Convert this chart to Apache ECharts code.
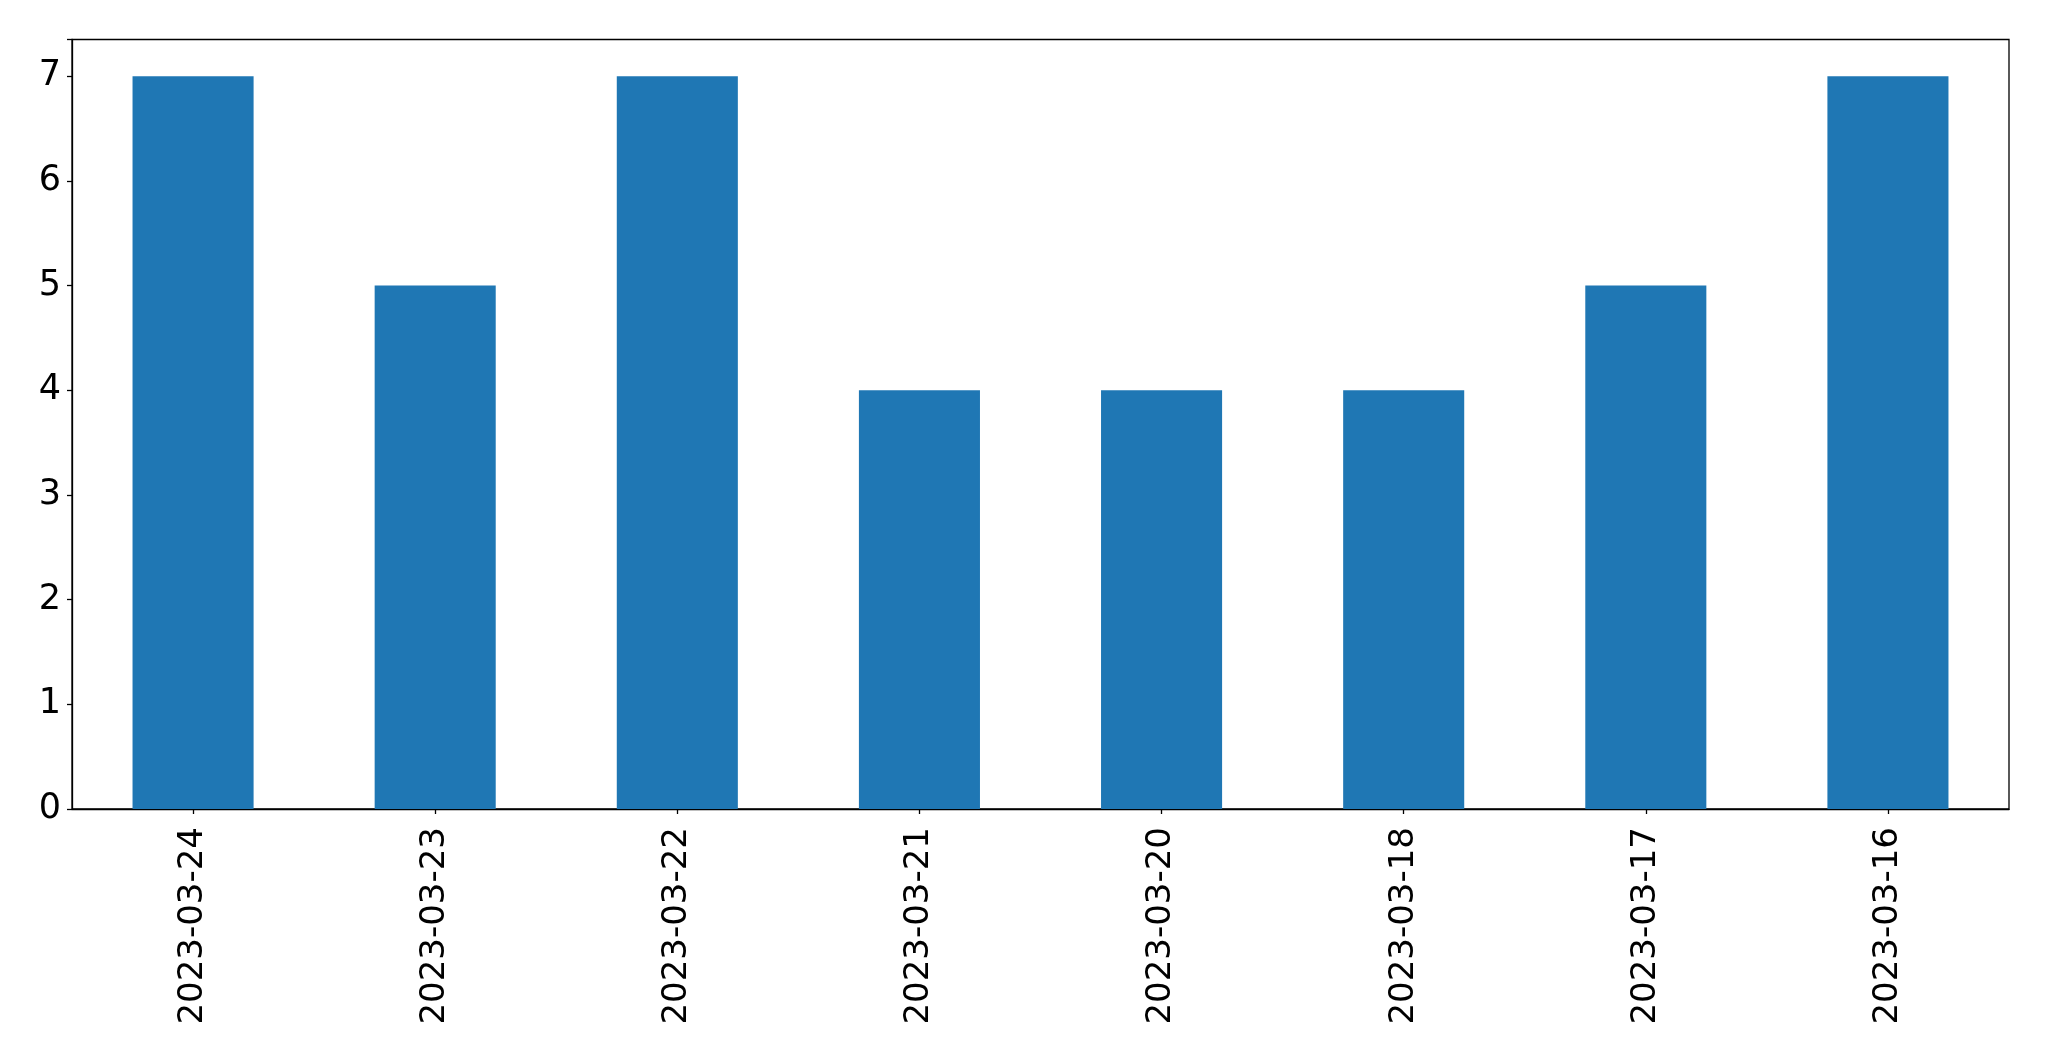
<!DOCTYPE html>
<html>
<head>
<meta charset="utf-8">
<script src="https://cdn.jsdelivr.net/npm/echarts@6/dist/echarts.min.js"></script>
<style>html,body{margin:0;padding:0;background:#fff}#c{width:2049px;height:1061px}</style>
</head>
<body>
<div id="c"></div>
<script>
const categories = ['2023-03-24','2023-03-23','2023-03-22','2023-03-21','2023-03-20','2023-03-18','2023-03-17','2023-03-16'];
const values = [7,5,7,4,4,4,5,7];
const yTicks = [0,1,2,3,4,5,6,7];

const chart = echarts.init(document.getElementById('c'), null, {renderer:'canvas'});
const font = 'DejaVu Sans';
chart.setOption({
  animation:false,
  backgroundColor:'#fff',
  grid:{left:72, right:40, top:39.5, bottom:252, show:true, borderColor:'#000', borderWidth:1.3, backgroundColor:'transparent'},
  xAxis:{
    type:'category', data:categories, boundaryGap:true,
    axisLine:{show:true, lineStyle:{color:'#000', width:1.3}},
    axisTick:{show:true, alignWithLabel:true, length:5, lineStyle:{color:'#000', width:1.3}},
    axisLabel:{rotate:90, margin:18, color:'#000', fontFamily:font, fontSize:34, interval:0},
    splitLine:{show:false}
  },
  yAxis:{
    type:'value', min:0, max:7.35, interval:1,
    axisLine:{show:true, lineStyle:{color:'#000', width:1.3}},
    axisTick:{show:true, length:5, lineStyle:{color:'#000', width:1.3}},
    axisLabel:{margin:11, color:'#000', fontFamily:font, fontSize:35,
      formatter:function(v){return yTicks.indexOf(v)>=0 ? String(v) : '';}},
    splitLine:{show:false}
  },
  series:[{type:'bar', data:values, barWidth:'50%', itemStyle:{color:'#1f77b4'}}]
});
</script>
</body>
</html>
